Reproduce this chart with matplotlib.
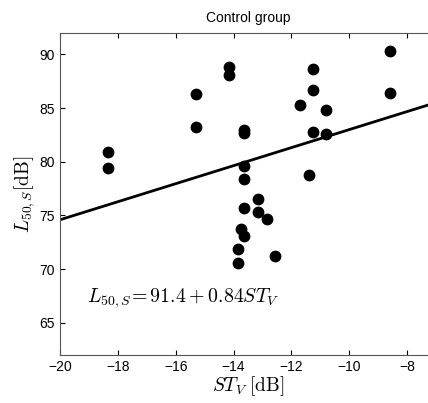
import matplotlib.pyplot as plt

# ST_V [dB] vs L50,S [dB], control group
st_v = [-8.6, -8.6, -14.15, -14.15, -15.3, -15.3, -13.65, -13.65,
        -11.25, -11.25, -11.25, -11.7, -10.8, -10.8,
        -18.35, -18.35, -13.65, -13.65, -13.65, -13.65,
        -11.4, -13.15, -13.15, -12.85, -13.75, -13.85, -13.85, -12.55]
l50_s = [90.3, 86.4, 88.8, 88.1, 86.3, 83.2, 83.0, 82.7,
         88.6, 86.7, 82.8, 85.3, 84.8, 82.6,
         80.9, 79.4, 79.6, 78.4, 75.7, 73.1,
         78.8, 76.5, 75.3, 74.7, 73.7, 71.9, 70.6, 71.25]

# regression line L50,S = 91.4 + 0.84 ST_V
intercept = 91.4
slope = 0.84
fit_x = [-20, -7]

plt.rcParams['font.family'] = ['Liberation Sans', 'DejaVu Sans']
plt.rcParams['mathtext.fontset'] = 'cm'

fig = plt.figure(figsize=(4.28, 4.03), dpi=100)
ax = fig.add_axes([0.1402, 0.1191, 0.8785, 0.799])

ax.scatter(st_v, l50_s, s=56, color='black', zorder=3)
ax.plot(fit_x, [intercept + slope * x for x in fit_x], color='black', lw=2)

ax.text(-19.05, 67.3, r'$L_{50,S}\!= 91.4 + 0.84ST_V$', fontsize=14.3, va='center')

ax.set_xlim(-20, -7)
ax.set_ylim(62, 92)
ax.set_xticks([-20, -18, -16, -14, -12, -10, -8])
ax.set_yticks([65, 70, 75, 80, 85, 90])
ax.tick_params(direction='in', top=True, right=False, labelsize=10, length=3.5)
ax.spines['right'].set_visible(False)
for s in ['left', 'bottom', 'top']:
    ax.spines[s].set_color('#555555')

ax.set_title('Control group', fontsize=10, pad=8)
ax.set_xlabel(r'$ST_V\;[\mathrm{dB}]$', fontsize=14, labelpad=0)
ax.set_ylabel(r'$L_{50,S}[\mathrm{dB}]$', fontsize=14, labelpad=2)

fig.savefig('out.png', dpi=100)
